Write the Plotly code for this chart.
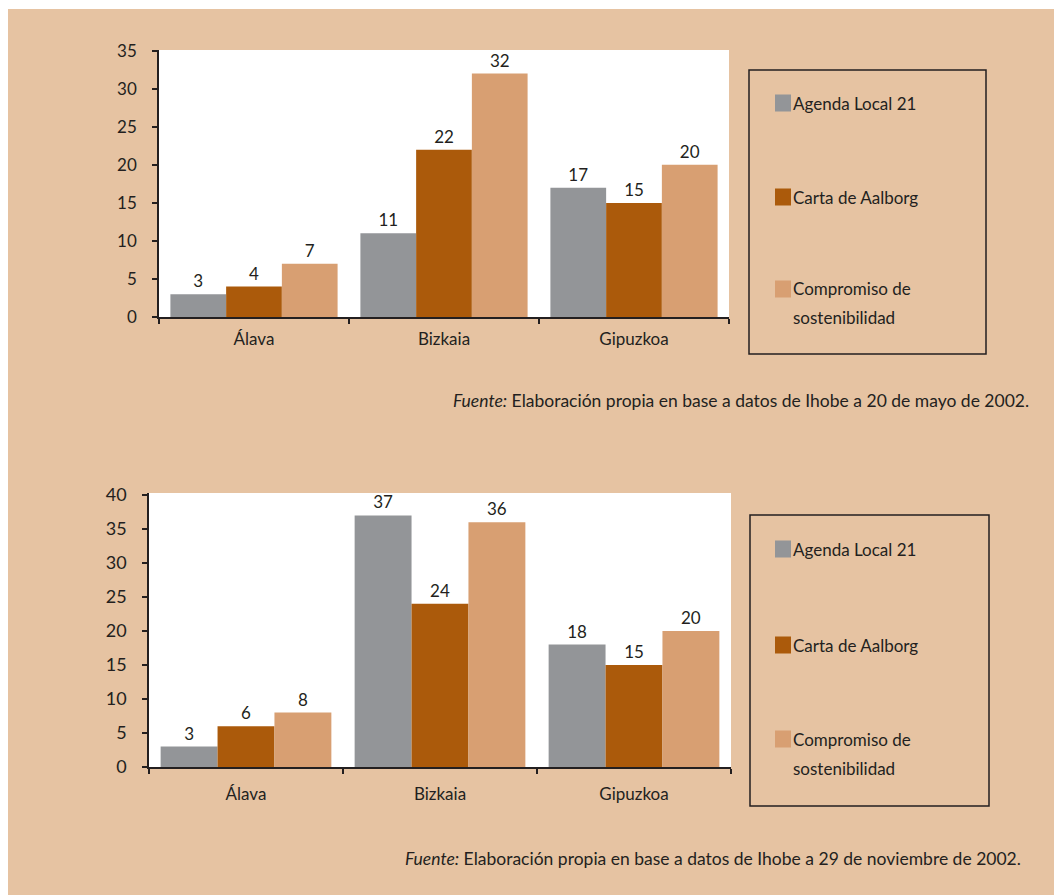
import plotly.graph_objects as go

# ---- data -------------------------------------------------------------
regions = ["Álava", "Bizkaia", "Gipuzkoa"]
series_names = ["Agenda Local 21", "Carta de Aalborg", "Compromiso de sostenibilidad"]
legend_lines = [["Agenda Local 21"], ["Carta de Aalborg"], ["Compromiso de", "sostenibilidad"]]
series_colors = ["#939598", "#AB5A0B", "#D89F72"]

# Situation at 20 May 2002
may_agenda = [3, 11, 17]
may_aalborg = [4, 22, 15]
may_compromiso = [7, 32, 20]

# Situation at 29 November 2002
nov_agenda = [3, 37, 18]
nov_aalborg = [6, 24, 15]
nov_compromiso = [8, 36, 20]

may_ticks = [0, 5, 10, 15, 20, 25, 30, 35]
nov_ticks = [0, 5, 10, 15, 20, 25, 30, 35, 40]

source_may = "<i>Fuente:</i> Elaboración propia en base a datos de Ihobe a 20 de mayo de 2002."
source_nov = "<i>Fuente:</i> Elaboración propia en base a datos de Ihobe a 29 de noviembre de 2002."

# ---- styling ----------------------------------------------------------
W, H = 1056, 895
PEACH = "#E6C3A2"
INK = "#231F20"
FONT = "Lato"


def px(x):
    return x / W


def py(y):
    return 1 - y / H


fig = go.Figure()

panels = [
    ("x", "y", [may_agenda, may_aalborg, may_compromiso]),
    ("x2", "y2", [nov_agenda, nov_aalborg, nov_compromiso]),
]
for xa, ya, values in panels:
    for name, color, vals in zip(series_names, series_colors, values):
        fig.add_trace(go.Bar(
            x=regions, y=vals, name=name, xaxis=xa, yaxis=ya,
            marker=dict(color=color, line=dict(width=0)),
            texttemplate="%{y}", textposition="outside",
            textfont=dict(family=FONT, size=17, color=INK),
            cliponaxis=False, showlegend=False,
        ))

axis_common = dict(
    showline=True, linecolor=INK, linewidth=1.5, mirror=False,
    ticks="outside", ticklen=5, tickwidth=1.5, tickcolor=INK,
    showgrid=False, zeroline=False, automargin=False,
    tickfont=dict(family=FONT, size=17, color=INK),
)

fig.update_layout(
    width=W, height=H, autosize=False,
    margin=dict(l=0, r=0, t=0, b=0, pad=0, autoexpand=False),
    showlegend=False,
    paper_bgcolor=PEACH, plot_bgcolor="white",
    barmode="group", bargap=0.12, bargroupgap=0,
    font=dict(family=FONT, color=INK),
    xaxis=dict(domain=[px(159), px(729)], anchor="y", tickson="boundaries",
               ticklabelstandoff=6, **axis_common),
    yaxis=dict(domain=[py(317), py(50)], anchor="x", range=[0, 35.1],
               tickvals=may_ticks, ticklabelstandoff=12, **axis_common),
    xaxis2=dict(domain=[px(149), px(731)], anchor="y2", tickson="boundaries",
                ticklabelstandoff=11, **axis_common),
    yaxis2=dict(domain=[py(767), py(493)], anchor="x2", range=[0, 40.3],
                tickvals=nov_ticks, ticklabelstandoff=12, **axis_common),
)
fig.update_yaxes(tickfont=dict(family=FONT, size=18, color=INK), selector=dict(anchor="x2"))

shapes = []
annotations = []

# thin white page border
for x0, y0, x1, y1 in [(0, 0, W, 9), (0, 0, 8, H), (W - 2, 0, W, H)]:
    shapes.append(dict(type="rect", xref="paper", yref="paper",
                       x0=px(x0), x1=px(x1), y0=py(y1), y1=py(y0),
                       fillcolor="white", line=dict(width=0), layer="below"))

# legend boxes: (box left, top, right, bottom, item centre rows, second line row)
legend_boxes = [
    (749, 70, 986, 354, [103, 197, 289], 317),
    (750, 515, 989, 806, [549, 645, 739], 768),
]
for bx0, by0, bx1, by1, rows, second_row in legend_boxes:
    shapes.append(dict(type="rect", xref="paper", yref="paper",
                       x0=px(bx0), x1=px(bx1), y0=py(by1), y1=py(by0),
                       line=dict(color=INK, width=1.5), fillcolor="rgba(0,0,0,0)"))
    for color, lines, cy in zip(series_colors, legend_lines, rows):
        shapes.append(dict(type="rect", xref="paper", yref="paper",
                           x0=px(775), x1=px(791), y0=py(cy + 8.5), y1=py(cy - 8.5),
                           fillcolor=color, line=dict(width=0)))
        for i, line in enumerate(lines):
            yy = cy if i == 0 else second_row
            annotations.append(dict(text=line, xref="paper", yref="paper",
                                    x=px(791), y=py(yy), xanchor="left", yanchor="middle",
                                    showarrow=False,
                                    font=dict(family=FONT, size=17, color=INK)))

# source notes
annotations.append(dict(text=source_may, xref="paper", yref="paper",
                        x=px(1031), y=py(400), xanchor="right", yanchor="middle",
                        showarrow=False, font=dict(family=FONT, size=17.5, color=INK)))
annotations.append(dict(text=source_nov, xref="paper", yref="paper",
                        x=px(1023), y=py(858), xanchor="right", yanchor="middle",
                        showarrow=False, font=dict(family=FONT, size=17.5, color=INK)))

fig.update_layout(shapes=shapes, annotations=annotations)

fig.write_html("out.html")
